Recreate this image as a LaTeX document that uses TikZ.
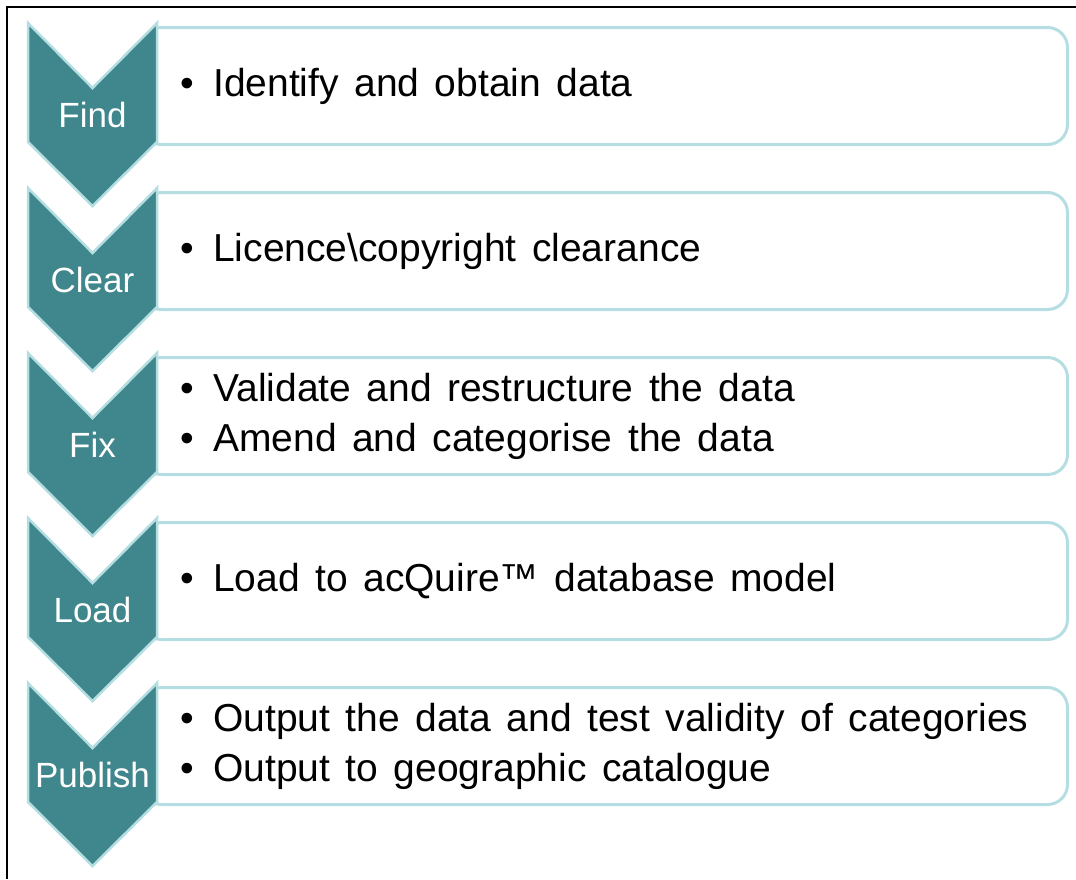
\documentclass[tikz,border=0pt]{standalone}
\usepackage{fontspec}
\setmainfont{Liberation Sans}
\usepackage{tikz}
\usetikzlibrary{positioning,calc}

\definecolor{stepteal}{HTML}{3F878D}
\definecolor{steprim}{HTML}{B5DEE2}
\newcommand\bul{\makebox[33pt][l]{\textbullet}}
\newcommand\itemfont{\fontsize{39}{50}\selectfont\spaceskip=15.5pt plus 1pt\relax}

\tikzset{
  stepbox/.style={draw=steprim, line width=3pt, rounded corners=20pt, fill=white,
    minimum width=926pt, minimum height=117pt, anchor=north west, inner sep=0pt},
  chevron/.style={fill=stepteal, draw=steprim, line width=2.5pt, line join=miter},
  steplabel/.style={text=white, font=\fontsize{35}{40}\selectfont, inner sep=0pt},
  steptext/.style={font=\itemfont, align=left, anchor=west, inner sep=0pt}
}

\begin{document}
\begin{tikzpicture}[x=1pt,y=-1pt]
\useasboundingbox (0,0) rectangle (1076,879);
\draw[line width=2.5pt] (7,879) -- (7,7) -- (1076,7);
\foreach \i/\lbl/\items in {0/Find/{\bul Identify and obtain data},
                            1/Clear/{\bul Licence\textbackslash copyright clearance},
                            2/Fix/{\bul Validate and restructure the data\\\bul Amend and categorise the data},
                            3/Load/{\bul Load to acQuire\texttrademark\ database model},
                            4/Publish/{\bul Output the data and test validity of categories\\\bul Output to geographic catalogue}} {
 \begin{scope}[yshift=-165pt*\i]
  \node[stepbox] (box\i) at (140,26) {};
  \draw[chevron] (28,23) -- (92.5,88) -- (157,23) -- (157,142) -- (92.5,206) -- (28,142) -- cycle;
  \node[steplabel] (lbl\i) at (92.5,115) {\lbl};
  \node[steptext] (txt\i) at (180,86) {\items};
 \end{scope}
}
\end{tikzpicture}
\end{document}
